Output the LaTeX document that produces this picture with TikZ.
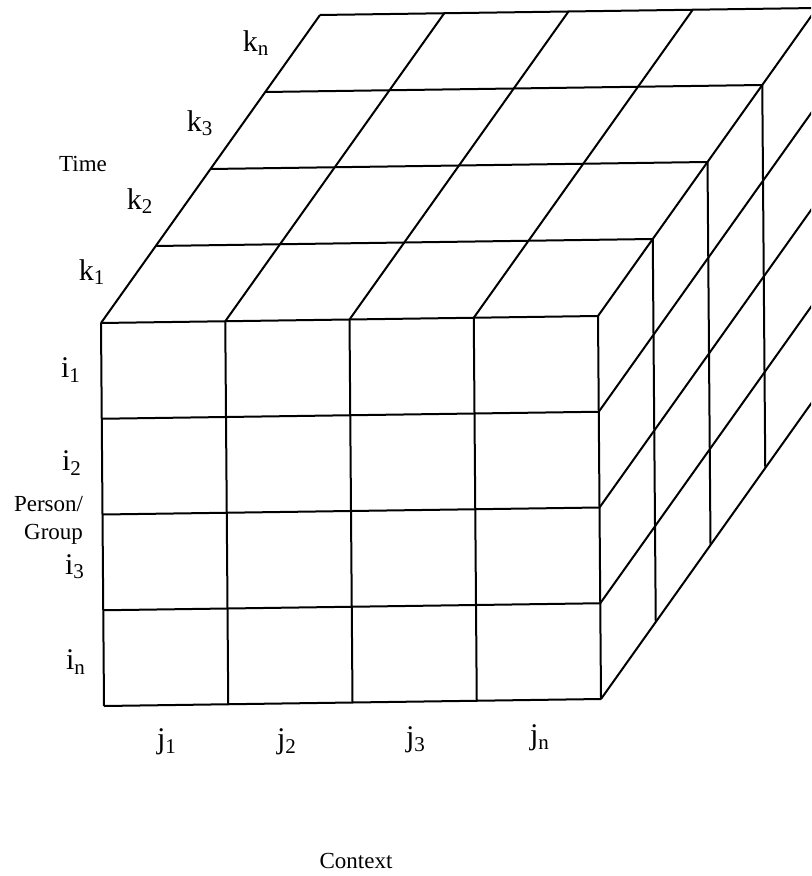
\documentclass[tikz,border=0pt]{standalone}
\usepackage{fontspec}
\setmainfont{Liberation Serif}
\usepackage{tikz}

\tikzset{
  idx/.style={font=\fontsize{15}{15}\selectfont, inner sep=0pt},
  axislabel/.style={font=\fontsize{11.5}{14}\selectfont, inner sep=0pt}
}

\begin{document}
\begin{tikzpicture}[x=0.5pt, y=-0.5pt, line width=1pt]
  \useasboundingbox (0,0) rectangle (811,876);
  \clip (0,0) rectangle (811,876);
  % 立方体: (列, 行, 奥行き) の斜投影
  \begin{scope}[shift={(101,323)}, x={(62.125pt,0.875pt)}, y={(0.375pt,-47.875pt)}, z={(27.375pt,38.5pt)}]
    % 前面
    \foreach \c in {0,...,4} \draw (\c,0,0) -- (\c,4,0);
    \foreach \r in {0,...,4} \draw (0,\r,0) -- (4,\r,0);
    % 上面
    \foreach \c in {0,...,4} \draw (\c,0,0) -- (\c,0,4);
    \foreach \k in {1,...,4} \draw (0,0,\k) -- (4,0,\k);
    % 右側面
    \foreach \r in {1,...,4} \draw (4,\r,0) -- (4,\r,4);
    \foreach \k in {1,...,4} \draw (4,0,\k) -- (4,4,\k);
  \end{scope}
  % 時間軸のラベル
  \node[idx] (kn) at (256,43) {k\textsubscript{n}};
  \node[idx] (k3) at (200,123) {k\textsubscript{3}};
  \node[axislabel] (time) at (83,164) {Time};
  \node[idx] (k2) at (140,201) {k\textsubscript{2}};
  \node[idx] (k1) at (92,272) {k\textsubscript{1}};
  % 人/集団のラベル
  \node[idx] (i1) at (71,370) {i\textsubscript{1}};
  \node[idx] (i2) at (72,463) {i\textsubscript{2}};
  \node[axislabel, align=right, anchor=east] (person) at (84,520) {Person/\\Group};
  \node[idx] (i3) at (75,567) {i\textsubscript{3}};
  \node[idx] (in) at (76,662) {i\textsubscript{n}};
  % 文脈のラベル
  \node[idx] (j1) at (167,742) {j\textsubscript{1}};
  \node[idx] (j2) at (287,742) {j\textsubscript{2}};
  \node[idx] (j3) at (416,740) {j\textsubscript{3}};
  \node[idx] (jn) at (540,738) {j\textsubscript{n}};
  \node[axislabel] (context) at (356,861) {Context};
\end{tikzpicture}
\end{document}
